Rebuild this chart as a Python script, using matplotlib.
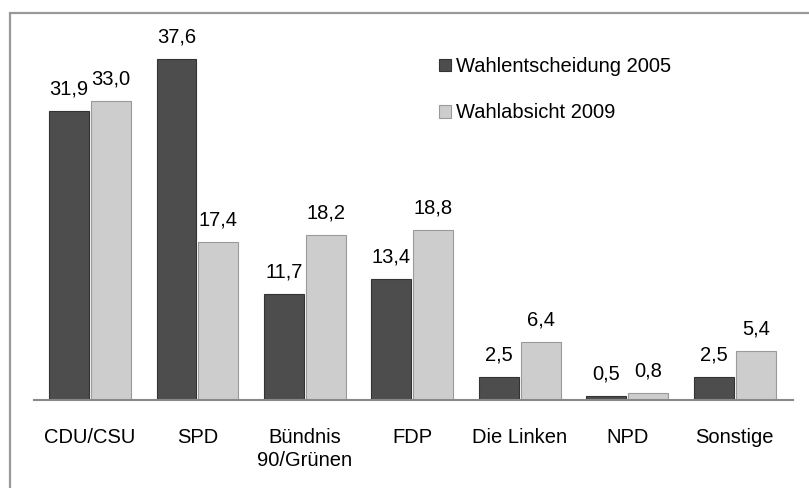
import matplotlib.pyplot as plt
from matplotlib.patches import Rectangle
import numpy as np

plt.rcParams['font.family'] = ['Liberation Sans', 'DejaVu Sans']

parties = ['CDU/CSU', 'SPD', 'Bündnis\n90/Grünen', 'FDP', 'Die Linken', 'NPD', 'Sonstige']
wahl_2005 = [31.9, 37.6, 11.7, 13.4, 2.5, 0.5, 2.5]
absicht_2009 = [33.0, 17.4, 18.2, 18.8, 6.4, 0.8, 5.4]
series_names = ['Wahlentscheidung 2005', 'Wahlabsicht 2009']

fig = plt.figure(figsize=(8.09, 4.88), dpi=100)
ax = fig.add_axes([0.042, 0.180, 0.938, 0.744])

# gray frame around the chart (right/bottom are cut off in the original)
fig.patches.append(Rectangle((10 / 809, -0.1), 1.2, 1 - 13 / 488 + 0.1,
                             transform=fig.transFigure, fill=False,
                             edgecolor='#999999', linewidth=1.6))

x = np.arange(len(parties))
w = 0.37
b1 = ax.bar(x - w / 2 - 0.01, wahl_2005, w, color='#4d4d4d', edgecolor='#333333',
            linewidth=0.8, label=series_names[0])
b2 = ax.bar(x + w / 2 + 0.01, absicht_2009, w, color='#cdcdcd', edgecolor='#9a9a9a',
            linewidth=0.8, label=series_names[1])

for bars, vals in [(b1, wahl_2005), (b2, absicht_2009)]:
    for bar, v in zip(bars, vals):
        ax.annotate(f'{v:.1f}'.replace('.', ','),
                    (bar.get_x() + bar.get_width() / 2, bar.get_height()),
                    xytext=(0, 9), textcoords='offset points',
                    ha='center', va='bottom', fontsize=14.5)

ax.set_xlim(-0.52, 6.54)
ax.set_ylim(0, 40)
ax.set_xticks(x)
ax.set_xticklabels(parties, fontsize=14.5, linespacing=1.3)
ax.tick_params(axis='x', length=0, pad=20)
ax.set_yticks([])
for s in ['top', 'right', 'left']:
    ax.spines[s].set_visible(False)
ax.spines['bottom'].set_color('#888888')
ax.spines['bottom'].set_linewidth(1.5)

ax.legend(loc='upper left', bbox_to_anchor=(0.51, 0.995), frameon=False,
          fontsize=14.5, handlelength=0.6, handleheight=0.6, handletextpad=0.25,
          labelspacing=1.35)

fig.savefig('out.png', dpi=100)
